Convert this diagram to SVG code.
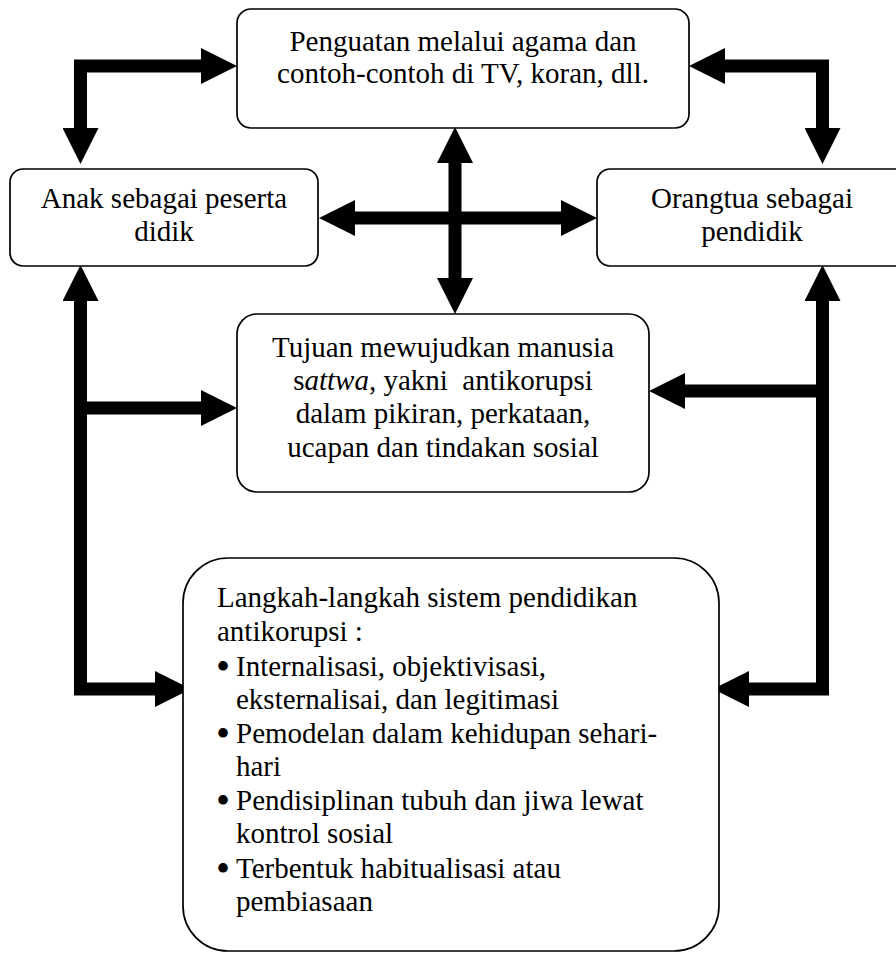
<svg xmlns="http://www.w3.org/2000/svg" width="896" height="953" viewBox="0 0 896 953">
<style>
.box{fill:#fff;stroke:#000;stroke-width:1.7}
.t{font-family:"Times New Roman","Liberation Serif",Tinos,"Nimbus Roman","DejaVu Serif",serif;font-size:29px;fill:#000}
.c{text-anchor:middle}
.b{font-size:40px}
.con{fill:none;stroke:#000;stroke-width:13;stroke-linejoin:miter;stroke-linecap:butt}
</style>
<defs>
<marker id="ah" viewBox="0 0 36 36" refX="0" refY="18" markerWidth="36" markerHeight="36" markerUnits="userSpaceOnUse" orient="auto-start-reverse">
<path d="M0,0 L36,18 L0,36 Z" fill="#000"/>
</marker>
</defs>
<rect width="896" height="953" fill="#fff"/>
<g id="connectors">
<path class="con" d="M201,66 H80.5 V128" marker-start="url(#ah)" marker-end="url(#ah)"/>
<path class="con" d="M725,66 H822.5 V128" marker-start="url(#ah)" marker-end="url(#ah)"/>
<path class="con" d="M355,218 H561" marker-start="url(#ah)" marker-end="url(#ah)"/>
<path class="con" d="M455,163 V278" marker-start="url(#ah)" marker-end="url(#ah)"/>
<path class="con" d="M80.5,301 V689 H155" marker-start="url(#ah)" marker-end="url(#ah)"/>
<path class="con" d="M80.5,408 H201" marker-end="url(#ah)"/>
<path class="con" d="M822.5,301 V689 H749" marker-start="url(#ah)" marker-end="url(#ah)"/>
<path class="con" d="M822.5,391 H685" marker-end="url(#ah)"/>
</g>
<g id="node-penguatan">
<rect class="box" x="237" y="9" width="452" height="119" rx="14"/>
<text class="t c" x="463" y="51">Penguatan melalui agama dan</text>
<text class="t c" x="463" y="83">contoh-contoh di TV, koran, dll.</text>
</g>
<g id="node-anak">
<rect class="box" x="10" y="169" width="308" height="97" rx="13"/>
<text class="t c" x="164" y="208">Anak sebagai peserta</text>
<text class="t c" x="164" y="241">didik</text>
</g>
<g id="node-orangtua">
<rect class="box" x="597" y="169" width="312" height="97" rx="13"/>
<text class="t c" x="752" y="208">Orangtua sebagai</text>
<text class="t c" x="752" y="241">pendidik</text>
</g>
<g id="node-tujuan">
<rect class="box" x="237" y="314" width="412" height="178" rx="20"/>
<text class="t c" x="443" y="357">Tujuan mewujudkan manusia</text>
<text class="t c" x="443" y="390" xml:space="preserve">s<tspan font-style="italic">attwa</tspan>, yakni  antikorupsi</text>
<text class="t c" x="443" y="423">dalam pikiran, perkataan,</text>
<text class="t c" x="443" y="457">ucapan dan tindakan sosial</text>
</g>
<g id="node-langkah">
<rect class="box" x="183" y="558" width="536" height="393" rx="45"/>
<text class="t" x="217" y="607">Langkah-langkah sistem pendidikan</text>
<text class="t" x="217" y="641">antikorupsi :</text>
<text class="t b" x="216" y="680">•</text>
<text class="t" x="236" y="676">Internalisasi, objektivisasi,</text>
<text class="t" x="236" y="709">eksternalisai, dan legitimasi</text>
<text class="t b" x="216" y="747">•</text>
<text class="t" x="236" y="743">Pemodelan dalam kehidupan sehari-</text>
<text class="t" x="236" y="776">hari</text>
<text class="t b" x="216" y="814">•</text>
<text class="t" x="236" y="810">Pendisiplinan tubuh dan jiwa lewat</text>
<text class="t" x="236" y="843">kontrol sosial</text>
<text class="t b" x="216" y="882">•</text>
<text class="t" x="236" y="878">Terbentuk habitualisasi atau</text>
<text class="t" x="236" y="911">pembiasaan</text>
</g>
</svg>
